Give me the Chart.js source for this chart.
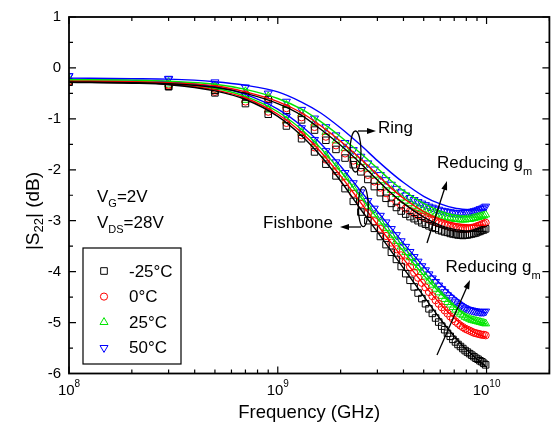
<!DOCTYPE html>
<html>
<head>
<meta charset="utf-8">
<script src="https://cdn.jsdelivr.net/npm/chart.js"></script>
<style>
  body { margin: 0; background: #fff; }
  #wrap { width: 555px; height: 432px; }
</style>
</head>
<body>
<div id="wrap"><canvas id="s22Chart" width="555" height="432"></canvas></div>
<script>
// measured |S22| (dB) vs frequency, Ring and Fishbone layouts at 4 temperatures
const freqGHz = [0.1, 0.3, 0.5, 0.7, 0.9, 1.1, 1.3, 1.5, 1.7, 1.9,
    2.1, 2.3, 2.5, 2.7, 2.9, 3.1, 3.3, 3.5, 3.7, 3.9,
    4.1, 4.3, 4.5, 4.7, 4.9, 5.1, 5.3, 5.5, 5.7, 5.9,
    6.1, 6.3, 6.5, 6.7, 6.9, 7.1, 7.3, 7.5, 7.7, 7.9,
    8.1, 8.3, 8.5, 8.7, 8.9, 9.1, 9.3, 9.5, 9.7, 9.9];

const ringM25 = [-0.28, -0.36, -0.44, -0.55, -0.62, -0.83, -1.02, -1.22, -1.42, -1.60,
    -1.77, -1.90, -2.04, -2.19, -2.33, -2.45, -2.56, -2.66, -2.74, -2.81,
    -2.87, -2.92, -2.96, -3.00, -3.04, -3.07, -3.10, -3.13, -3.15, -3.18,
    -3.20, -3.22, -3.23, -3.25, -3.26, -3.27, -3.28, -3.28, -3.29, -3.28,
    -3.28, -3.27, -3.26, -3.25, -3.24, -3.22, -3.21, -3.19, -3.18, -3.16];
const ring0 = [-0.26, -0.33, -0.41, -0.52, -0.60, -0.79, -0.97, -1.16, -1.35, -1.52,
    -1.68, -1.82, -1.96, -2.10, -2.23, -2.35, -2.46, -2.55, -2.63, -2.70,
    -2.76, -2.81, -2.85, -2.89, -2.92, -2.95, -2.98, -3.00, -3.03, -3.05,
    -3.07, -3.09, -3.10, -3.12, -3.13, -3.14, -3.15, -3.16, -3.16, -3.16,
    -3.16, -3.15, -3.14, -3.13, -3.12, -3.10, -3.09, -3.07, -3.06, -3.04];
const ring25 = [-0.22, -0.28, -0.36, -0.46, -0.56, -0.73, -0.90, -1.08, -1.26, -1.43,
    -1.58, -1.72, -1.85, -1.98, -2.10, -2.21, -2.31, -2.40, -2.48, -2.55,
    -2.61, -2.66, -2.71, -2.75, -2.78, -2.81, -2.84, -2.86, -2.88, -2.90,
    -2.92, -2.93, -2.94, -2.95, -2.96, -2.97, -2.97, -2.98, -2.98, -2.98,
    -2.97, -2.97, -2.96, -2.95, -2.94, -2.93, -2.92, -2.91, -2.90, -2.88];
const ring50 = [-0.16, -0.21, -0.28, -0.38, -0.50, -0.66, -0.82, -0.99, -1.16, -1.32,
    -1.47, -1.61, -1.74, -1.87, -1.99, -2.10, -2.20, -2.29, -2.37, -2.44,
    -2.50, -2.55, -2.59, -2.63, -2.66, -2.69, -2.72, -2.74, -2.76, -2.78,
    -2.80, -2.81, -2.82, -2.83, -2.84, -2.85, -2.85, -2.85, -2.85, -2.84,
    -2.84, -2.83, -2.82, -2.81, -2.80, -2.79, -2.77, -2.76, -2.74, -2.72];

const fishM25 = [-0.28, -0.37, -0.49, -0.70, -0.91, -1.14, -1.39, -1.65, -1.89, -2.12,
    -2.37, -2.62, -2.83, -3.00, -3.15, -3.31, -3.47, -3.62, -3.76, -3.90,
    -4.04, -4.17, -4.30, -4.42, -4.53, -4.63, -4.73, -4.82, -4.91, -4.99,
    -5.07, -5.14, -5.21, -5.27, -5.33, -5.38, -5.43, -5.47, -5.51, -5.55,
    -5.58, -5.61, -5.64, -5.67, -5.70, -5.72, -5.75, -5.77, -5.80, -5.83];
const fish0 = [-0.27, -0.35, -0.47, -0.66, -0.86, -1.08, -1.32, -1.56, -1.80, -2.03,
    -2.25, -2.47, -2.67, -2.85, -3.01, -3.16, -3.30, -3.43, -3.56, -3.68,
    -3.80, -3.91, -4.02, -4.12, -4.22, -4.31, -4.40, -4.48, -4.56, -4.63,
    -4.70, -4.76, -4.82, -4.88, -4.93, -4.98, -5.02, -5.06, -5.09, -5.12,
    -5.14, -5.16, -5.18, -5.20, -5.21, -5.22, -5.23, -5.24, -5.24, -5.25];
const fish25 = [-0.25, -0.33, -0.45, -0.63, -0.82, -1.03, -1.26, -1.49, -1.72, -1.94,
    -2.15, -2.36, -2.55, -2.72, -2.88, -3.02, -3.15, -3.28, -3.40, -3.51,
    -3.62, -3.72, -3.82, -3.92, -4.01, -4.10, -4.18, -4.26, -4.34, -4.41,
    -4.48, -4.54, -4.60, -4.65, -4.70, -4.75, -4.79, -4.83, -4.86, -4.89,
    -4.91, -4.93, -4.95, -4.96, -4.97, -4.98, -4.99, -5.00, -5.01, -5.02];
const fish50 = [-0.16, -0.22, -0.34, -0.53, -0.73, -0.95, -1.18, -1.41, -1.63, -1.85,
    -2.06, -2.26, -2.44, -2.61, -2.76, -2.90, -3.03, -3.16, -3.28, -3.40,
    -3.51, -3.61, -3.71, -3.80, -3.89, -3.97, -4.05, -4.13, -4.20, -4.27,
    -4.34, -4.40, -4.46, -4.51, -4.56, -4.60, -4.64, -4.67, -4.70, -4.72,
    -4.74, -4.75, -4.76, -4.77, -4.78, -4.78, -4.79, -4.79, -4.79, -4.78];

// model (solid lines)
const fitFreqGHz = [0.1, 0.2, 0.3, 0.5, 0.7, 1, 1.3, 1.6, 2, 2.5, 3, 3.5, 4, 5, 6, 7, 8, 9, 10];
const ringFitM25 = [-0.28, -0.29, -0.31, -0.38, -0.50, -0.70, -0.93, -1.20, -1.52, -1.88, -2.20, -2.46, -2.66, -2.93, -3.09, -3.17, -3.20, -3.21, -3.21];
const ringFit0 = [-0.26, -0.27, -0.29, -0.35, -0.47, -0.66, -0.88, -1.13, -1.44, -1.79, -2.10, -2.36, -2.56, -2.82, -2.97, -3.05, -3.08, -3.09, -3.09];
const ringFit25 = [-0.23, -0.24, -0.26, -0.32, -0.42, -0.60, -0.81, -1.05, -1.35, -1.68, -1.97, -2.22, -2.41, -2.66, -2.81, -2.89, -2.92, -2.93, -2.93];
const ringFit50 = [-0.20, -0.21, -0.22, -0.27, -0.34, -0.47, -0.67, -0.88, -1.18, -1.52, -1.82, -2.06, -2.25, -2.52, -2.67, -2.75, -2.78, -2.79, -2.79];
const fishFitM25 = [-0.28, -0.30, -0.33, -0.45, -0.62, -0.95, -1.33, -1.72, -2.22, -2.78, -3.22, -3.60, -3.93, -4.48, -4.93, -5.27, -5.53, -5.72, -5.87];
const fishFit0 = [-0.27, -0.29, -0.32, -0.43, -0.59, -0.91, -1.27, -1.64, -2.12, -2.65, -3.08, -3.44, -3.75, -4.25, -4.63, -4.91, -5.10, -5.22, -5.29];
const fishFit25 = [-0.25, -0.27, -0.30, -0.40, -0.56, -0.86, -1.21, -1.57, -2.03, -2.54, -2.95, -3.30, -3.60, -4.07, -4.42, -4.68, -4.86, -4.97, -5.03];
const fishFit50 = [-0.22, -0.24, -0.27, -0.37, -0.52, -0.81, -1.14, -1.48, -1.93, -2.42, -2.82, -3.15, -3.44, -3.90, -4.24, -4.49, -4.66, -4.76, -4.81];

const tempLabels = ['-25°C', '0°C', '25°C', '50°C'];
const xTickValues = [1e8, 1e9, 1e10];
const xTickExps = ['8', '9', '10'];

const colors = ['#000000', '#ff0000', '#00e600', '#0000ff'];
const markStyle = ['rect', 'circle', 'triangle', 'triangle'];
const markRot = [0, 0, 0, 180];
const markRad = [4.6, 3.6, 4.6, 4.6];
const FONT = '"Liberation Sans", Arial, Helvetica, sans-serif';

const ringMeas = [ringM25, ring0, ring25, ring50];
const fishMeas = [fishM25, fish0, fish25, fish50];
const ringFit = [ringFitM25, ringFit0, ringFit25, ringFit50];
const fishFit = [fishFitM25, fishFit0, fishFit25, fishFit50];

const toXY = (fs, vals) => fs.map((f, i) => ({ x: f * 1e9, y: vals[i] }));

const datasets = [];
for (let i = 0; i < 4; i++) {
    [ringMeas[i], fishMeas[i]].forEach(vals => {
        datasets.push({
            data: toXY(freqGHz, vals),
            showLine: false,
            pointStyle: markStyle[i],
            rotation: markRot[i],
            pointRadius: markRad[i],
            pointBorderWidth: 1,
            pointBorderColor: colors[i],
            pointBackgroundColor: 'rgba(0,0,0,0)',
            order: 2
        });
    });
    [ringFit[i], fishFit[i]].forEach(vals => {
        datasets.push({
            data: toXY(fitFreqGHz, vals),
            showLine: true,
            borderColor: colors[i],
            borderWidth: 1.4,
            pointRadius: 0,
            cubicInterpolationMode: 'monotone',
            fill: false,
            order: 1
        });
    });
}

function txt(ctx, s, x, y, size, align) {
    ctx.font = size + 'px ' + FONT;
    ctx.textAlign = align || 'left';
    ctx.fillText(s, x, y);
    return ctx.measureText(s).width;
}

function arrow(ctx, x1, y1, x2, y2) {
    const a = Math.atan2(y2 - y1, x2 - x1);
    ctx.beginPath();
    ctx.moveTo(x1, y1);
    ctx.lineTo(x2 - 6 * Math.cos(a), y2 - 6 * Math.sin(a));
    ctx.stroke();
    ctx.beginPath();
    ctx.moveTo(x2, y2);
    ctx.lineTo(x2 - 9 * Math.cos(a) + 3 * Math.sin(a), y2 - 9 * Math.sin(a) - 3 * Math.cos(a));
    ctx.lineTo(x2 - 9 * Math.cos(a) - 3 * Math.sin(a), y2 - 9 * Math.sin(a) + 3 * Math.cos(a));
    ctx.closePath();
    ctx.fill();
}

function marker(ctx, i, x, y) {
    ctx.strokeStyle = colors[i];
    ctx.lineWidth = 1;
    ctx.beginPath();
    if (i === 0) {
        ctx.rect(x - 3.3, y - 3.3, 6.6, 6.6);
    } else if (i === 1) {
        ctx.arc(x, y, 3.6, 0, Math.PI * 2);
    } else {
        const s = i === 2 ? -1 : 1;
        ctx.moveTo(x, y + s * 4.6);
        ctx.lineTo(x + 4, y - s * 2.3);
        ctx.lineTo(x - 4, y - s * 2.3);
        ctx.closePath();
    }
    ctx.stroke();
}

const decor = {
    id: 'decor',
    afterDraw(chart) {
        const ctx = chart.ctx;
        const a = chart.chartArea;
        const xs = chart.scales.x, ys = chart.scales.y;
        ctx.save();
        ctx.strokeStyle = '#000';
        ctx.fillStyle = '#000';

        // frame
        ctx.lineWidth = 1.8;
        ctx.strokeRect(a.left, a.top, a.right - a.left, a.bottom - a.top);

        // inward ticks on all four sides
        ctx.lineWidth = 1.2;
        ctx.beginPath();
        for (let e = 8; e <= 10; e++) {
            for (let m = 1; m <= 9; m++) {
                const v = m * Math.pow(10, e);
                if (v > xs.max) break;
                const px = xs.getPixelForValue(v);
                const len = m === 1 ? 7 : 4;
                ctx.moveTo(px, a.bottom); ctx.lineTo(px, a.bottom - len);
                ctx.moveTo(px, a.top); ctx.lineTo(px, a.top + len);
            }
        }
        for (let v = -6; v <= 1; v += 0.5) {
            const py = ys.getPixelForValue(v);
            const len = Number.isInteger(v) ? 7 : 4;
            ctx.moveTo(a.left, py); ctx.lineTo(a.left + len, py);
            ctx.moveTo(a.right, py); ctx.lineTo(a.right - len, py);
        }
        ctx.stroke();

        // x tick labels 10^n
        ctx.textBaseline = 'alphabetic';
        xTickValues.forEach((v, i) => {
            const px = xs.getPixelForValue(v);
            ctx.font = '15px ' + FONT;
            const w1 = ctx.measureText('10').width;
            ctx.font = '10px ' + FONT;
            const w2 = ctx.measureText(xTickExps[i]).width;
            const x0 = px - (w1 + w2) / 2;
            txt(ctx, '10', x0, 395, 15);
            txt(ctx, xTickExps[i], x0 + w1, 387, 10);
        });

        // axis titles
        txt(ctx, 'Frequency (GHz)', (a.left + a.right) / 2, 418, 18.5, 'center');
        ctx.save();
        ctx.translate(38.5, 211);
        ctx.rotate(-Math.PI / 2);
        ctx.font = '19px ' + FONT;
        const p1 = ctx.measureText('|S').width;
        const p3 = ctx.measureText('| (dB)').width;
        ctx.font = '13px ' + FONT;
        const p2 = ctx.measureText('22').width;
        let tx = -(p1 + p2 + p3) / 2;
        txt(ctx, '|S', tx, 0, 19);
        txt(ctx, '22', tx + p1, 4.5, 13);
        txt(ctx, '| (dB)', tx + p1 + p2, 0, 19);
        ctx.restore();

        // bias conditions
        let w = txt(ctx, 'V', 97, 202, 17);
        let ws = txt(ctx, 'G', 97 + w, 207, 11);
        txt(ctx, '=2V', 97 + w + ws, 202, 17);
        w = txt(ctx, 'V', 97, 228, 17);
        ws = txt(ctx, 'DS', 97 + w, 233, 11);
        txt(ctx, '=28V', 97 + w + ws, 228, 17);

        // Ring / Fishbone marks
        ctx.lineWidth = 1.3;
        ctx.beginPath();
        ctx.ellipse(355.5, 151.5, 5.5, 20.5, 0, 0, Math.PI * 2);
        ctx.stroke();
        ctx.beginPath();
        ctx.ellipse(363.3, 206.7, 5, 20, 0, 0, Math.PI * 2);
        ctx.stroke();
        arrow(ctx, 358, 131, 376, 131);
        txt(ctx, 'Ring', 378, 133, 17);
        arrow(ctx, 361, 227, 340, 227);
        txt(ctx, 'Fishbone', 333, 228, 17, 'right');

        // reducing gm arrows
        w = txt(ctx, 'Reducing g', 437, 168, 17);
        txt(ctx, 'm', 437 + w, 175, 11);
        arrow(ctx, 427, 243, 447, 181);
        w = txt(ctx, 'Reducing g', 445.5, 272, 17);
        txt(ctx, 'm', 445.5 + w, 279, 11);
        arrow(ctx, 437, 355, 470, 280);

        // legend box
        ctx.lineWidth = 1.2;
        ctx.fillStyle = '#fff';
        ctx.fillRect(83, 248, 98, 116);
        ctx.strokeStyle = '#000';
        ctx.strokeRect(83, 248, 98, 116);
        ctx.fillStyle = '#000';
        ctx.textBaseline = 'middle';
        tempLabels.forEach((lab, i) => {
            const y = 271 + i * 25.6;
            marker(ctx, i, 104, y);
            ctx.fillStyle = '#000';
            txt(ctx, lab, 129, y + 1, 17);
        });
        ctx.restore();
    }
};

new Chart(document.getElementById('s22Chart'), {
    type: 'scatter',
    data: { datasets: datasets },
    options: {
        responsive: false,
        devicePixelRatio: 1,
        animation: false,
        layout: { padding: { top: 15, right: 1, left: 0, bottom: 0 } },
        plugins: { legend: { display: false }, tooltip: { enabled: false } },
        scales: {
            x: {
                type: 'logarithmic',
                min: 1e8,
                max: 2e10,
                grid: { display: false },
                border: { display: false },
                ticks: { display: false },
                afterFit: s => { s.height = 58.5; }
            },
            y: {
                min: -6,
                max: 1,
                grid: { display: false, drawTicks: false },
                border: { display: false },
                ticks: {
                    stepSize: 1,
                    padding: 8,
                    color: '#000',
                    font: { size: 15, family: FONT }
                },
                afterFit: s => { s.width = 69; }
            }
        }
    },
    plugins: [decor]
});
</script>
</body>
</html>
